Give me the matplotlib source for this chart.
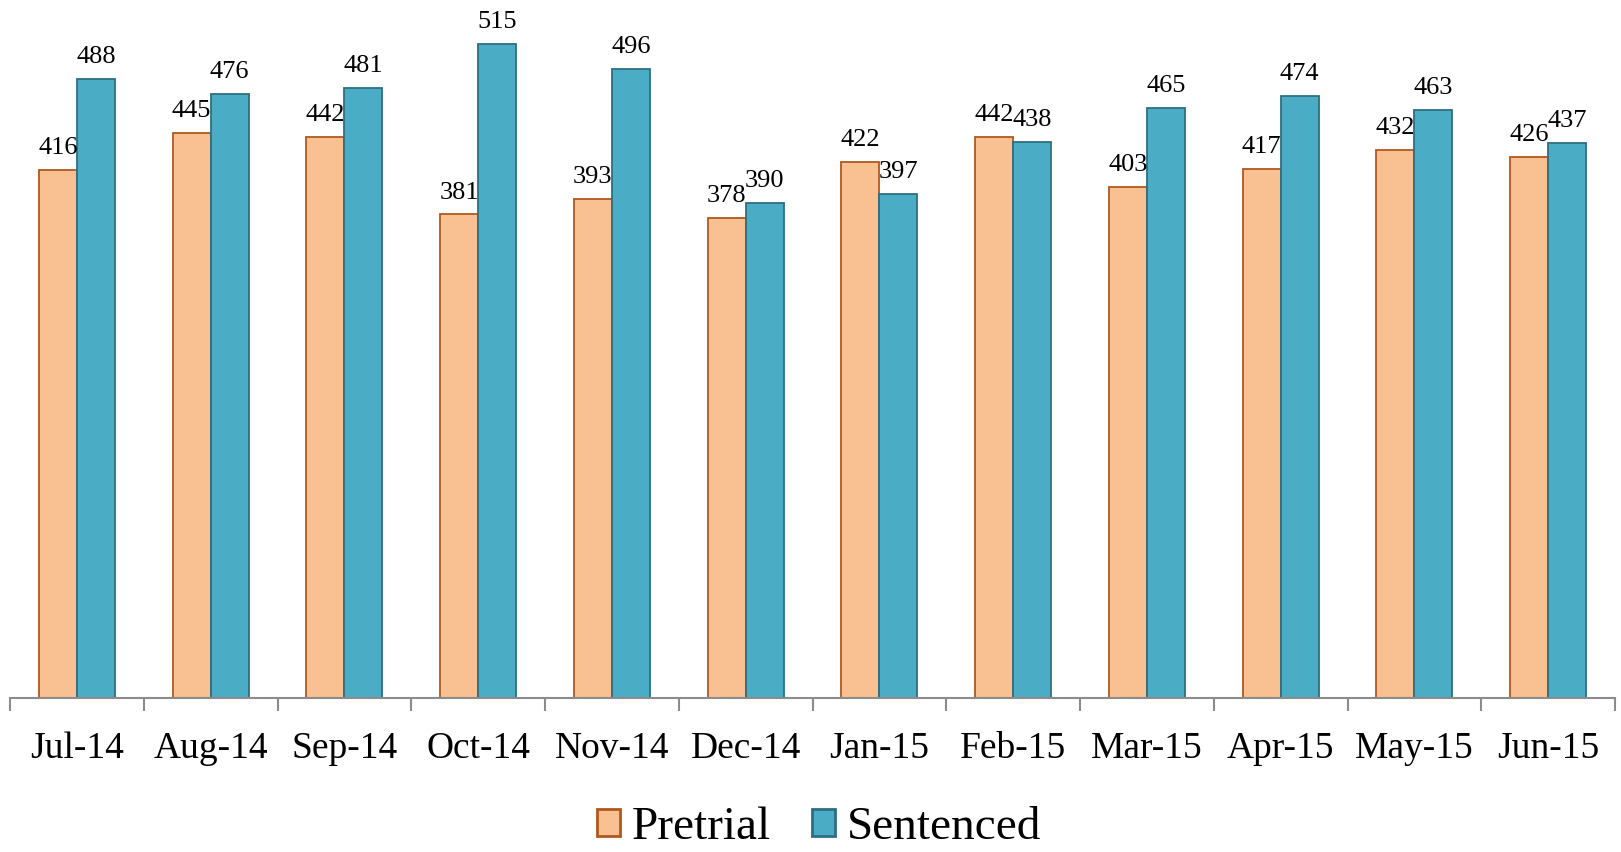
"""Pretrial vs sentenced bar chart, 1621x852 PNG."""
import matplotlib

matplotlib.use("Agg")
import matplotlib.pyplot as plt  # noqa: E402
import numpy as np  # noqa: E402

months = ["Jul-14", "Aug-14", "Sep-14", "Oct-14", "Nov-14", "Dec-14",
          "Jan-15", "Feb-15", "Mar-15", "Apr-15", "May-15", "Jun-15"]
pretrial = [416, 445, 442, 381, 393, 378, 422, 442, 403, 417, 432, 426]
sentenced = [488, 476, 481, 515, 496, 390, 397, 438, 465, 474, 463, 437]

PRE_FILL, PRE_EDGE = "#F9C091", "#B0581E"
SEN_FILL, SEN_EDGE = "#4BACC6", "#2E6E82"
WIDTH = 0.285

plt.rcParams["font.family"] = ["Liberation Serif", "DejaVu Serif"]

fig = plt.figure(figsize=(16.21, 8.52), dpi=100)
ax = fig.add_axes([10 / 1621, 1 - 698 / 852, 1605 / 1621, 698 / 852])

x = np.arange(len(months))
b1 = ax.bar(x - WIDTH / 2, pretrial, WIDTH, color=PRE_FILL, edgecolor=PRE_EDGE,
            linewidth=1.3, label="Pretrial")
b2 = ax.bar(x + WIDTH / 2, sentenced, WIDTH, color=SEN_FILL, edgecolor=SEN_EDGE,
            linewidth=1.3, label="Sentenced")

for bars in (b1, b2):
    for rect in bars:
        h = rect.get_height()
        ax.annotate(f"{h:.0f}", (rect.get_x() + rect.get_width() / 2, h),
                    xytext=(0, 11.5), textcoords="offset points",
                    ha="center", va="baseline", fontsize=19)

ax.set_xlim(-0.5, len(months) - 0.5)
ax.set_ylim(0, 550)
ax.set_yticks([])
for side in ("top", "left", "right"):
    ax.spines[side].set_visible(False)
ax.spines["bottom"].set_color("#8C8C8C")
ax.spines["bottom"].set_linewidth(1.5)

ax.set_xticks(x)
ax.set_xticklabels(months, fontsize=27)
ax.set_xticks(np.arange(len(months) + 1) - 0.5, minor=True)
ax.tick_params(axis="x", which="major", length=0, pad=24)
ax.tick_params(axis="x", which="minor", length=9, width=1.5, color="#8C8C8C")

leg = fig.legend(handles=[b1, b2], loc="center",
                 bbox_to_anchor=(819 / 1621, 1 - 828 / 852),
                 ncol=2, frameon=False, fontsize=34, handlelength=0.5,
                 handleheight=0.5, handletextpad=0.25, columnspacing=0.85,
                 borderpad=0.1)
for patch in leg.get_patches():
    patch.set_linewidth(2)

fig.savefig("out.png", format="png")
plt.close(fig)
